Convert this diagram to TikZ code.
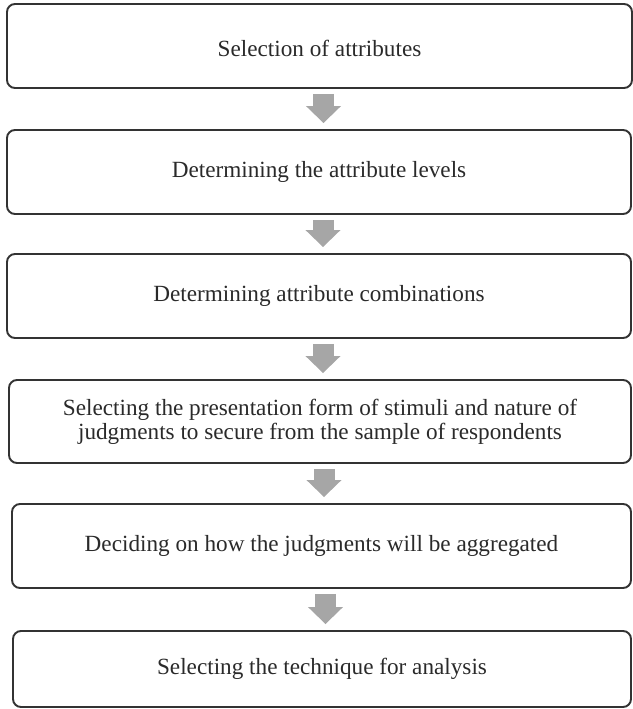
\documentclass[tikz,border=0pt]{standalone}
\usepackage{fontspec}
\setmainfont{Liberation Serif}
\usetikzlibrary{arrows.meta}

\definecolor{boxline}{HTML}{333333}
\definecolor{flowgray}{HTML}{A6A6A6}
\definecolor{inktext}{HTML}{2A2A2A}

\tikzset{
  stepbox/.style={draw=boxline, line width=1.9bp, rounded corners=8bp,
    fill=white, text=inktext, align=center, inner sep=0pt,
    font=\fontsize{23.2bp}{24bp}\selectfont},
  flowarrow/.style={draw=flowgray, line width=21bp, line cap=butt,
    -{Triangle[width=34bp,length=17bp]}, shorten <=5bp, shorten >=6bp}
}

\begin{document}
\begin{tikzpicture}[x=1bp,y=-1bp]
  \useasboundingbox (0,0) rectangle (633,709);

  % the six steps
  \node[stepbox, minimum width=625bp, minimum height=84bp,
        text height=21bp, text depth=0bp] (b1) at (319.5,46)
    {Selection of attributes};
  \node[stepbox, minimum width=624bp, minimum height=84bp] (b2) at (319,172)
    {Determining the attribute levels};
  \node[stepbox, minimum width=624bp, minimum height=84bp] (b3) at (319,296)
    {Determining attribute combinations};
  \node[stepbox, minimum width=622bp, minimum height=83bp] (b4) at (320,421.5)
    {Selecting the presentation form of stimuli and nature of\\
     judgments to secure from the sample of respondents};
  \node[stepbox, minimum width=619bp, minimum height=84bp] (b5) at (321.5,546)
    {Deciding on how the judgments will be aggregated};
  \node[stepbox, minimum width=618bp, minimum height=76bp] (b6) at (322,669)
    {Selecting the technique for analysis};

  % block arrows between consecutive steps
  \foreach \a/\b in {b1/b2, b2/b3, b3/b4, b4/b5, b5/b6}
    \draw[flowarrow] ([xshift=4bp]\a.south |- \a.south) -- ([xshift=4bp]\b.north -| \a.south);
\end{tikzpicture}
\end{document}
